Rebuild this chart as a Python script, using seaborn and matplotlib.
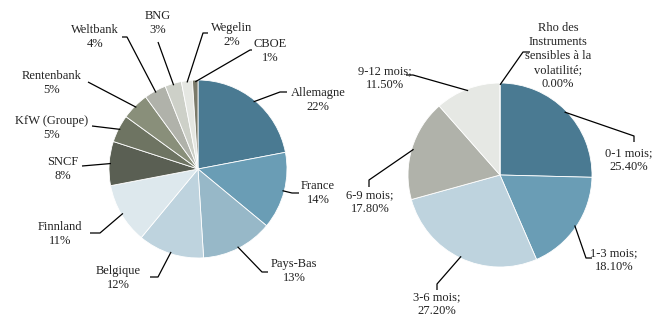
import numpy as np
import matplotlib
matplotlib.use("Agg")
import matplotlib.pyplot as plt
import seaborn as sns

# left pie: issuers
issuers = ["Allemagne", "France", "Pays-Bas", "Belgique", "Finnland", "SNCF",
           "KfW (Groupe)", "Rentenbank", "Weltbank", "BNG", "Wegelin", "CBOE"]
issuer_pct = [22, 14, 13, 12, 11, 8, 5, 5, 4, 3, 2, 1]
issuer_colors = ["#4a7a92", "#6a9db5", "#97b8c8", "#bed3de", "#dde8ed", "#5a5f53",
                 "#6e7462", "#898f7a", "#b0b2aa", "#cdd0c8", "#e5e7e2", "#7a7a6a"]

# right pie: maturity buckets
buckets = ["0-1 mois", "1-3 mois", "3-6 mois", "6-9 mois", "9-12 mois",
           "Rho des\nInstruments\nsensibles à la\nvolatilité"]
bucket_pct = [25.40, 18.10, 27.20, 17.80, 11.50, 0.00]
bucket_colors = ["#4a7a92", "#6a9db5", "#bed3de", "#b0b2aa", "#e6e8e4", "#999999"]

sns.set_theme(style="white")
plt.rcParams["font.family"] = ["Liberation Serif", "DejaVu Serif"]

W, H = 663, 319
fig = plt.figure(figsize=(W / 100, H / 100), dpi=100)

# label layout in pixels: (text x, text y, elbow x, elbow y, end x, end y)
left_layout = [
    (318, 100, 280, 92, 287, 92),
    (318, 193, 292, 193, 299, 193),
    (294, 271, 262, 272, 268, 272),
    (118, 278, 158, 277, 150, 277),
    (60, 234, 100, 233, 90, 233),
    (63, 169, 82, 166, 82, 166),
    (52, 128, 92, 126, 92, 126),
    (52, 83, 88, 82, 88, 82),
    (95, 37, 127, 37, 122, 37),
    (158, 23, 158, 42, 158, 42),
    (232, 35, 203, 33, 208, 33),
    (270, 51, 250, 50, 252, 50),
]
right_layout = [
    (629, 160, 634, 136, 634, 142),
    (614, 260, 586, 258, 592, 258),
    (437, 304, 437, 284, 437, 290),
    (370, 202, 369, 180, 369, 187),
    (385, 78, 413, 75, 406, 75),
    (558, 56, 523, 52, 530, 52),
]


def draw_pie(x0, x1, cx, cy, r, values, colors, labels, layout):
    ax = fig.add_axes([x0 / W, 0, (x1 - x0) / W, 1])
    wedges, _ = ax.pie(values, colors=colors, startangle=90, counterclock=False,
                       radius=1, wedgeprops=dict(linewidth=0.6, edgecolor="white"))
    ax.set_aspect("auto")
    ax.set_xlim((x0 - cx) / r, (x1 - cx) / r)
    ax.set_ylim((cy - H) / r, cy / r)
    ax.axis("off")
    for w, lab, (tx, ty, ex, ey, fx, fy) in zip(wedges, labels, layout):
        ang = np.deg2rad((w.theta1 + w.theta2) / 2)
        px, py = np.cos(ang) * 0.98, np.sin(ang) * 0.98
        xs = [px, (ex - cx) / r, (fx - cx) / r]
        ys = [py, (cy - ey) / r, (cy - fy) / r]
        ax.plot(xs, ys, color="black", lw=0.9, solid_capstyle="butt")
        ax.text((tx - cx) / r, (cy - ty) / r, lab, ha="center", va="center",
                fontsize=9, linespacing=1.2, color="#222222")
    return ax


left_labels = [f"{n}\n{v}%" for n, v in zip(issuers, issuer_pct)]
right_labels = [f"{n};\n{v:.2f}%" for n, v in zip(buckets, bucket_pct)]

draw_pie(0, 330, 198, 169, 89, issuer_pct, issuer_colors, left_labels, left_layout)
draw_pie(330, 663, 500, 175, 92, bucket_pct, bucket_colors, right_labels, right_layout)

fig.savefig("out.png", dpi=100)
